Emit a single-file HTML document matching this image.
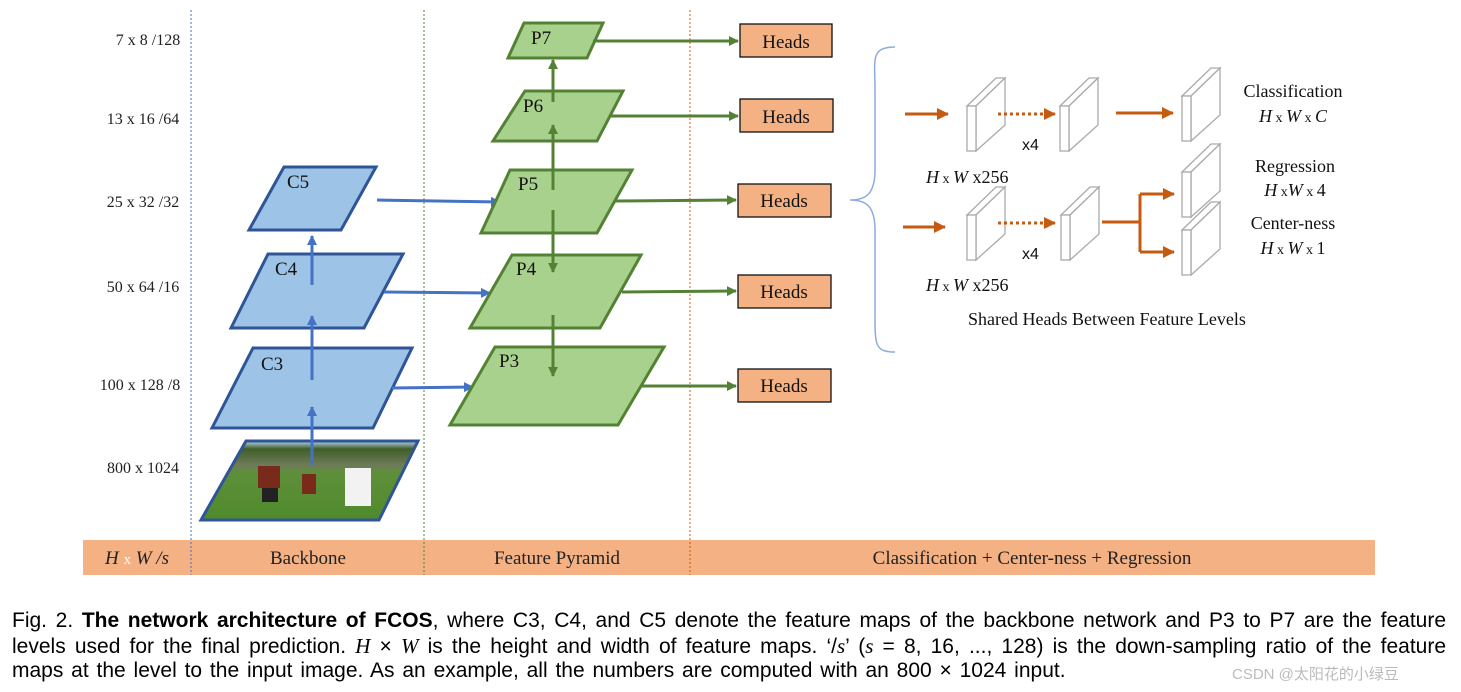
<!DOCTYPE html>
<html><head><meta charset="utf-8"><style>
body{margin:0;background:#fff;width:1461px;height:692px;overflow:hidden}
svg{position:absolute;left:0;top:0}
.cap{position:absolute;left:12px;width:1434px;font:21px "Liberation Sans",sans-serif;color:#000;white-space:nowrap}
.j{text-align:justify;text-align-last:justify}
.m{font-family:"Liberation Serif",serif}
</style></head><body>
<svg width="1461" height="692" viewBox="0 0 1461 692" font-family="Liberation Serif,serif">
<defs>
<marker id="ab" markerWidth="10" markerHeight="10" refX="9" refY="5" orient="auto" markerUnits="userSpaceOnUse"><path d="M0,0 L10,5 L0,10z" fill="#4472c4"/></marker>
<marker id="ag" markerWidth="10" markerHeight="10" refX="9" refY="5" orient="auto" markerUnits="userSpaceOnUse"><path d="M0,0 L10,5 L0,10z" fill="#548235"/></marker>
<marker id="ao" markerWidth="12" markerHeight="12" refX="11" refY="6" orient="auto" markerUnits="userSpaceOnUse"><path d="M0,0 L12,6 L0,12z" fill="#c55a11"/></marker>
<linearGradient id="img" x1="0" y1="0" x2="0" y2="1"><stop offset="0" stop-color="#b9d6ef"/><stop offset="0.1" stop-color="#3f5f28"/><stop offset="0.3" stop-color="#6e7a58"/><stop offset="0.4" stop-color="#5f8f3a"/><stop offset="1" stop-color="#4f8a2c"/></linearGradient>
</defs>
<rect x="83" y="540" width="1292" height="35" fill="#f4b183"/>
<line x1="191" y1="10" x2="191" y2="575" stroke="#4472c4" stroke-dasharray="2,2"/>
<line x1="424" y1="10" x2="424" y2="575" stroke="#548235" stroke-dasharray="2,2"/>
<line x1="690" y1="10" x2="690" y2="575" stroke="#c55a11" stroke-dasharray="2,2"/>
<g font-size="19" fill="#222" text-anchor="middle">
<text x="137" y="564" font-style="italic">H <tspan fill="#fff" font-style="normal" font-size="15">x</tspan> W /s</text>
<text x="308" y="564">Backbone</text>
<text x="557" y="564">Feature Pyramid</text>
<text x="1032" y="564">Classification + Center-ness + Regression</text>
</g>
<g font-size="16" fill="#222" text-anchor="middle">
<text x="148" y="45">7 x 8 /128</text>
<text x="143" y="124">13 x 16 /64</text>
<text x="143" y="207">25 x 32 /32</text>
<text x="143" y="292">50 x 64 /16</text>
<text x="140" y="390">100 x 128 /8</text>
<text x="143" y="473">800 x 1024</text>
</g>
<polygon points="246,441 418,441 379,520 201,520" fill="url(#img)" stroke="#2f5597" stroke-width="3"/>
<g fill="#7a2a1a"><rect x="258" y="466" width="22" height="22"/><rect x="302" y="474" width="14" height="20"/></g>
<g fill="#f2f2f2"><rect x="345" y="468" width="26" height="38"/></g>
<g fill="#222"><rect x="262" y="488" width="16" height="14"/></g>
<g fill="#9dc3e6" stroke="#2f5597" stroke-width="3">
<polygon points="253,348 412,348 373,428 212,428"/>
<polygon points="268,254 403,254 364,328 231,328"/>
<polygon points="284,167 376,167 341,230 249,230"/>
</g>
<g font-size="19" fill="#111"><text x="261" y="370">C3</text><text x="275" y="275">C4</text><text x="287" y="188">C5</text></g>
<g stroke="#4472c4" stroke-width="3" marker-end="url(#ab)">
<line x1="312" y1="465" x2="312" y2="407"/>
<line x1="312" y1="380" x2="312" y2="316"/>
<line x1="312" y1="285" x2="312" y2="236"/>
<line x1="377" y1="200" x2="500" y2="202"/>
<line x1="384" y1="292" x2="490" y2="293"/>
<line x1="392" y1="388" x2="473" y2="387"/>
</g>
<g fill="#a9d18e" stroke="#548235" stroke-width="3">
<polygon points="495,347 664,347 618,425 450,425"/>
<polygon points="512,255 641,255 600,328 470,328"/>
<polygon points="510,170 632,170 597,233 481,233"/>
<polygon points="525,91 623,91 597,141 493,141"/>
<polygon points="524,23 603,23 587,58 508,58"/>
</g>
<g font-size="19" fill="#111"><text x="499" y="367">P3</text><text x="516" y="275">P4</text><text x="518" y="190">P5</text><text x="523" y="112">P6</text><text x="531" y="44">P7</text></g>
<g stroke="#548235" stroke-width="3" marker-end="url(#ag)">
<line x1="553" y1="102" x2="553" y2="60"/>
<line x1="553" y1="190" x2="553" y2="125"/>
<line x1="553" y1="210" x2="553" y2="272"/>
<line x1="553" y1="315" x2="553" y2="376"/>
<line x1="593" y1="41" x2="738" y2="41"/>
<line x1="610" y1="116" x2="738" y2="116"/>
<line x1="614" y1="201" x2="736" y2="200"/>
<line x1="622" y1="292" x2="736" y2="291"/>
<line x1="641" y1="386" x2="736" y2="386"/>
</g>
<g fill="#f4b183" stroke="#111" stroke-width="1.3">
<rect x="740" y="24" width="92" height="33"/><rect x="740" y="99" width="93" height="33"/>
<rect x="738" y="184" width="93" height="33"/><rect x="738" y="275" width="93" height="33"/><rect x="738" y="369" width="93" height="33"/>
</g>
<g font-size="19" fill="#111" text-anchor="middle">
<text x="786" y="48">Heads</text><text x="786" y="123">Heads</text><text x="784" y="207">Heads</text><text x="784" y="298">Heads</text><text x="784" y="392">Heads</text>
</g>
<path d="M895,47 C870,47 875,60 875,90 L875,170 C875,195 865,200 850,200 C865,200 875,205 875,230 L875,315 C875,345 875,352 895,352" fill="none" stroke="#8faadc" stroke-width="1.5"/>
<g fill="#fff" stroke="#aaa" stroke-width="1.3">
<g id="cube"><polygon points="967,106 976,106 1005,78 996,78"/><polygon points="976,106 1005,78 1005,125 976,151"/><rect x="967" y="106" width="9" height="45"/></g>
<use href="#cube" x="93" y="0"/><use href="#cube" x="215" y="-10"/>
<use href="#cube" x="0" y="109"/><use href="#cube" x="94" y="109"/>
<use href="#cube" x="215" y="66"/><use href="#cube" x="215" y="124"/>
</g>
<g stroke="#c55a11" stroke-width="3" fill="none">
<line x1="905" y1="114" x2="948" y2="114" marker-end="url(#ao)"/>
<line x1="998" y1="114" x2="1055" y2="114" stroke-dasharray="3,3" marker-end="url(#ao)"/>
<line x1="1116" y1="113" x2="1173" y2="113" marker-end="url(#ao)"/>
<line x1="903" y1="227" x2="945" y2="227" marker-end="url(#ao)"/>
<line x1="998" y1="223" x2="1055" y2="223" stroke-dasharray="3,3" marker-end="url(#ao)"/>
<polyline points="1102,222 1140,222"/>
<polyline points="1140,194 1140,252"/>
<line x1="1140" y1="194" x2="1174" y2="194" marker-end="url(#ao)"/>
<line x1="1140" y1="252" x2="1174" y2="252" marker-end="url(#ao)"/>
</g>
<g font-size="18" fill="#111">
<text x="1022" y="150" font-family="Liberation Sans,sans-serif" font-size="16">x4</text>
<text x="1022" y="259" font-family="Liberation Sans,sans-serif" font-size="16">x4</text>
<text x="926" y="183"><tspan font-style="italic">H</tspan><tspan font-size="14"> x </tspan><tspan font-style="italic">W</tspan> x256</text>
<text x="926" y="291"><tspan font-style="italic">H</tspan><tspan font-size="14"> x </tspan><tspan font-style="italic">W</tspan> x256</text>
<text x="968" y="325">Shared Heads Between Feature Levels</text>
<g text-anchor="middle">
<text x="1293" y="97">Classification</text>
<text x="1293" y="122"><tspan font-style="italic">H</tspan><tspan font-size="14"> x </tspan><tspan font-style="italic">W</tspan><tspan font-size="14"> x </tspan><tspan font-style="italic">C</tspan></text>
<text x="1295" y="172">Regression</text>
<text x="1295" y="196"><tspan font-style="italic">H</tspan><tspan font-size="14"> x</tspan><tspan font-style="italic">W</tspan><tspan font-size="14"> x </tspan>4</text>
<text x="1293" y="229">Center-ness</text>
<text x="1293" y="254"><tspan font-style="italic">H</tspan><tspan font-size="14"> x </tspan><tspan font-style="italic">W</tspan><tspan font-size="14"> x </tspan>1</text>
</g>
</g>
</svg>
<div class="cap j" style="top:609px">Fig. 2. <b>The network architecture of FCOS</b>, where C3, C4, and C5 denote the feature maps of the backbone network and P3 to P7 are the feature</div>
<div class="cap j" style="top:634px">levels used for the final prediction. <i class="m">H</i> × <i class="m">W</i> is the height and width of feature maps. ‘/<i class="m">s</i>’ (<i class="m">s</i> = 8, 16, ..., 128) is the down-sampling ratio of the feature</div>
<div class="cap" style="top:659px;word-spacing:2px">maps at the level to the input image. As an example, all the numbers are computed with an 800 × 1024 input.</div>
<div style="position:absolute;left:1232px;top:663px;font:15px 'Liberation Sans','Noto Sans CJK SC',sans-serif;color:#bbb">CSDN @太阳花的小绿豆</div>
</body></html>
